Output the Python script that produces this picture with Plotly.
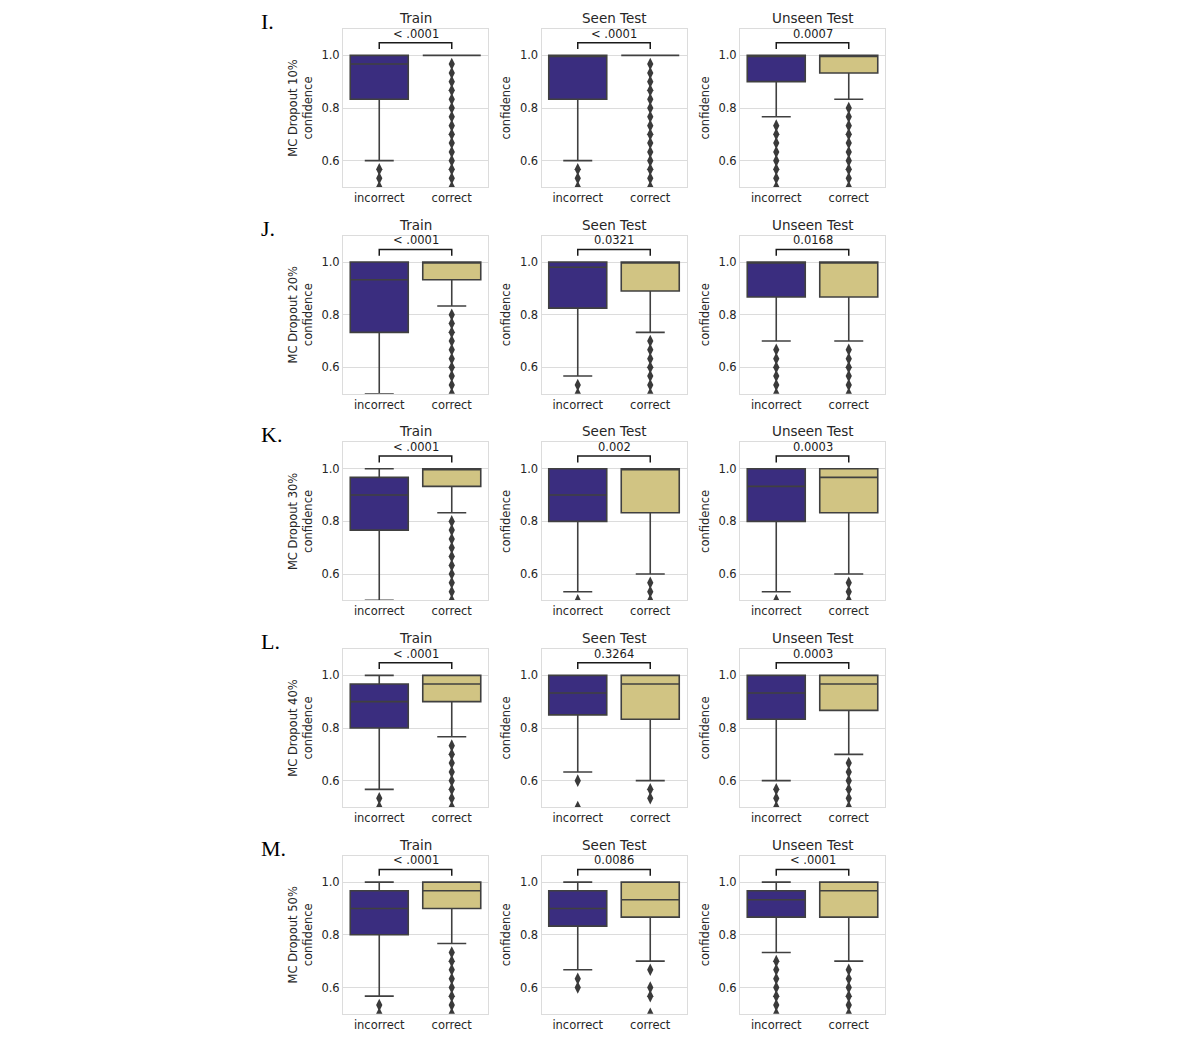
import plotly.graph_objects as go
from plotly.subplots import make_subplots

# rows = MC dropout rate, cols = data split
row_letters = ['I.', 'J.', 'K.', 'L.', 'M.']
dropouts = ['10%', '20%', '30%', '40%', '50%']
splits = ['Train', 'Seen Test', 'Unseen Test']
groups = ['incorrect', 'correct']

p_values = [
    ['< .0001', '< .0001', '0.0007'],
    ['< .0001', '0.0321', '0.0168'],
    ['< .0001', '0.002', '0.0003'],
    ['< .0001', '0.3264', '0.0003'],
    ['< .0001', '0.0086', '< .0001'],
]

# box stats for the "incorrect" group
inc_q1 = [
    [0.833, 0.833, 0.9],
    [0.733, 0.825, 0.867],
    [0.767, 0.8, 0.8],
    [0.8, 0.85, 0.833],
    [0.8, 0.833, 0.867],
]
inc_median = [
    [0.967, 1.0, 1.0],
    [0.933, 0.98, 1.0],
    [0.9, 0.9, 0.933],
    [0.9, 0.933, 0.933],
    [0.9, 0.9, 0.933],
]
inc_q3 = [
    [1.0, 1.0, 1.0],
    [1.0, 1.0, 1.0],
    [0.967, 1.0, 1.0],
    [0.967, 1.0, 1.0],
    [0.967, 0.967, 0.967],
]
inc_low = [
    [0.6, 0.6, 0.767],
    [0.5, 0.567, 0.7],
    [0.5, 0.533, 0.533],
    [0.567, 0.633, 0.6],
    [0.567, 0.667, 0.733],
]
inc_high = [
    [1.0, 1.0, 1.0],
    [1.0, 1.0, 1.0],
    [1.0, 1.0, 1.0],
    [1.0, 1.0, 1.0],
    [1.0, 1.0, 1.0],
]
inc_outliers = [
    [[0.567, 0.533, 0.5], [0.567, 0.533, 0.5],
     [0.733, 0.7, 0.667, 0.633, 0.6, 0.567, 0.533, 0.5]],
    [[], [0.533, 0.5], [0.667, 0.633, 0.6, 0.567, 0.533, 0.5]],
    [[], [0.5], [0.5]],
    [[0.533, 0.5], [0.6, 0.5], [0.567, 0.533, 0.5]],
    [[0.533, 0.5], [0.633, 0.6], [0.7, 0.667, 0.633, 0.6, 0.567, 0.533, 0.5]],
]

# box stats for the "correct" group
cor_q1 = [
    [1.0, 1.0, 0.933],
    [0.933, 0.89, 0.867],
    [0.933, 0.833, 0.833],
    [0.9, 0.833, 0.867],
    [0.9, 0.867, 0.867],
]
cor_median = [
    [1.0, 1.0, 1.0],
    [1.0, 1.0, 1.0],
    [1.0, 1.0, 0.967],
    [0.967, 0.967, 0.967],
    [0.967, 0.933, 0.967],
]
cor_q3 = [
    [1.0, 1.0, 1.0],
    [1.0, 1.0, 1.0],
    [1.0, 1.0, 1.0],
    [1.0, 1.0, 1.0],
    [1.0, 1.0, 1.0],
]
cor_low = [
    [1.0, 1.0, 0.833],
    [0.833, 0.733, 0.7],
    [0.833, 0.6, 0.6],
    [0.767, 0.6, 0.7],
    [0.767, 0.7, 0.7],
]
cor_high = [
    [1.0, 1.0, 1.0],
    [1.0, 1.0, 1.0],
    [1.0, 1.0, 1.0],
    [1.0, 1.0, 1.0],
    [1.0, 1.0, 1.0],
]
cor_outliers = [
    [[0.967, 0.933, 0.9, 0.867, 0.833, 0.8, 0.767, 0.733, 0.7, 0.667, 0.633, 0.6, 0.567, 0.533, 0.5],
     [0.967, 0.933, 0.9, 0.867, 0.833, 0.8, 0.767, 0.733, 0.7, 0.667, 0.633, 0.6, 0.567, 0.533, 0.5],
     [0.8, 0.767, 0.733, 0.7, 0.667, 0.633, 0.6, 0.567, 0.533, 0.5]],
    [[0.8, 0.767, 0.733, 0.7, 0.667, 0.633, 0.6, 0.567, 0.533, 0.5],
     [0.7, 0.667, 0.633, 0.6, 0.567, 0.533, 0.5],
     [0.667, 0.633, 0.6, 0.567, 0.533, 0.5]],
    [[0.8, 0.767, 0.733, 0.7, 0.667, 0.633, 0.6, 0.567, 0.533, 0.5],
     [0.567, 0.533, 0.5],
     [0.567, 0.533, 0.5]],
    [[0.733, 0.7, 0.667, 0.633, 0.6, 0.567, 0.533, 0.5],
     [0.567, 0.533],
     [0.667, 0.633, 0.6, 0.567, 0.533, 0.5]],
    [[0.733, 0.7, 0.667, 0.633, 0.6, 0.567, 0.533, 0.5],
     [0.667, 0.6, 0.567, 0.5],
     [0.667, 0.633, 0.6, 0.567, 0.533, 0.5]],
]

W, H = 1196, 1039
PURPLE = '#3a2d7f'
KHAKI = '#d1c483'
EDGE = '#404040'
GRID = '#dcdcdc'
FONT = 'DejaVu Sans'
TXT = '#262626'

# page body adds ~8px around the figure, so pull everything back by that much
OFF = 8
col_left = [343 - OFF, 541.5 - OFF, 740 - OFF]
plot_w = 145
row_top = [29 - OFF, 235.7 - OFF, 442.4 - OFF, 649 - OFF, 855.8 - OFF]
plot_h = 158

fig = make_subplots(rows=5, cols=3)

for r in range(5):
    for c in range(3):
        stats = [
            (groups[0], inc_q1, inc_median, inc_q3, inc_low, inc_high, PURPLE),
            (groups[1], cor_q1, cor_median, cor_q3, cor_low, cor_high, KHAKI),
        ]
        for g, q1, med, q3, lo, hi, col in stats:
            fig.add_trace(go.Box(
                x=[g], q1=[q1[r][c]], median=[med[r][c]], q3=[q3[r][c]],
                lowerfence=[lo[r][c]], upperfence=[hi[r][c]],
                fillcolor=col, line=dict(color=EDGE, width=1.6),
                width=0.8, whiskerwidth=0.5, boxpoints=False,
                showlegend=False, hoverinfo='skip'), row=r + 1, col=c + 1)

        for g, outs in [(groups[0], inc_outliers), (groups[1], cor_outliers)]:
            ys = outs[r][c]
            if not ys:
                continue
            fig.add_trace(go.Scatter(
                x=[g] * len(ys), y=ys, mode='markers',
                marker=dict(symbol='diamond-tall', size=9, color='#3a3a3a'),
                showlegend=False, hoverinfo='skip', cliponaxis=True),
                row=r + 1, col=c + 1)

        # significance bracket
        fig.add_trace(go.Scatter(
            x=[groups[0], groups[0], groups[1], groups[1]],
            y=[1.024, 1.048, 1.048, 1.024], mode='lines',
            line=dict(color='#1a1a1a', width=1.5),
            showlegend=False, hoverinfo='skip', cliponaxis=False),
            row=r + 1, col=c + 1)

        idx = r * 3 + c + 1
        xa = 'x' if idx == 1 else f'x{idx}'
        ya = 'y' if idx == 1 else f'y{idx}'
        fig.add_annotation(
            x=0.5, xref=f'{xa} domain', y=1.048, yref=ya,
            text=p_values[r][c], showarrow=False, yanchor='bottom',
            font=dict(family=FONT, size=11.5, color='#1a1a1a'))
        fig.add_annotation(
            x=0.5, xref=f'{xa} domain', y=1, yref=f'{ya} domain',
            text=splits[c], showarrow=False, yanchor='bottom', yshift=1,
            font=dict(family=FONT, size=13.5, color=TXT))

        x0 = col_left[c] / W
        y1 = 1 - row_top[r] / H
        fig.update_xaxes(
            domain=[x0, x0 + plot_w / W], type='category',
            categoryorder='array', categoryarray=groups, range=[-0.5, 1.5],
            showgrid=False, showline=True, mirror=True, linecolor=GRID,
            ticks='', tickfont=dict(family=FONT, size=11.5, color=TXT),
            row=r + 1, col=c + 1)
        ytitle = f'MC Dropout {dropouts[r]}<br>confidence' if c == 0 else 'confidence'
        fig.update_yaxes(
            domain=[y1 - plot_h / H, y1], range=[0.5, 1.1],
            tickvals=[0.6, 0.8, 1.0], ticktext=['0.6', '0.8', '1.0'],
            showgrid=True, gridcolor=GRID, gridwidth=1, zeroline=False,
            showline=True, mirror=True, linecolor=GRID, ticks='',
            tickfont=dict(family=FONT, size=11.5, color=TXT),
            title=dict(text=ytitle, font=dict(family=FONT, size=11.5, color=TXT),
                       standoff=6),
            row=r + 1, col=c + 1)

    # panel letter, top edge kept inside the page
    fig.add_annotation(
        x=(260 - OFF) / W, xref='paper', y=1 - (row_top[r] - 21) / H, yref='paper',
        text=row_letters[r], showarrow=False, xanchor='left', yanchor='top',
        borderpad=0, font=dict(family='Liberation Serif', size=22, color='black'))

fig.update_layout(
    width=W, height=H, margin=dict(l=0, r=0, t=0, b=0),
    paper_bgcolor='white', plot_bgcolor='white', boxmode='overlay',
    font=dict(family=FONT))

fig.write_html('out.html')
